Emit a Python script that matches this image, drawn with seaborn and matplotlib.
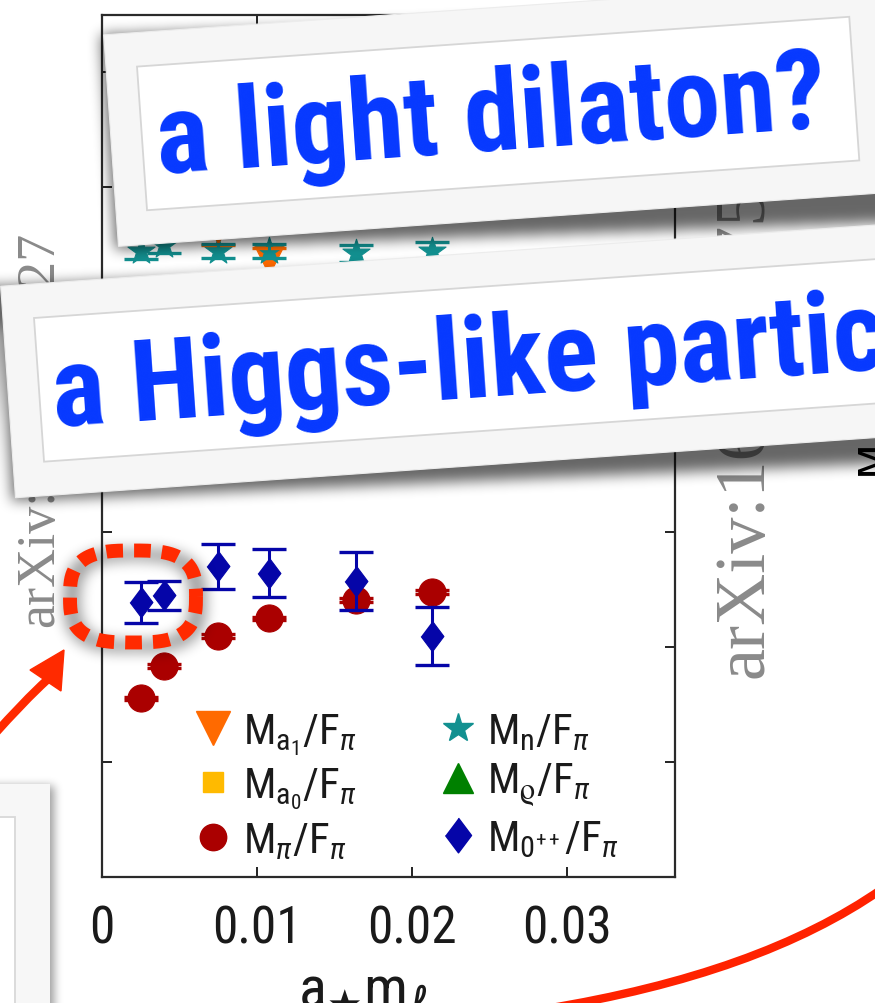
import numpy as np
import pandas as pd
import matplotlib
matplotlib.use("Agg")
import matplotlib.pyplot as plt
import seaborn as sns
from matplotlib import font_manager
from matplotlib.path import Path
from matplotlib.patches import Polygon, PathPatch
from matplotlib.lines import Line2D

# ---- spectrum in units of F_pi versus a*m_l ----
quark_mass = [0.0025, 0.0040, 0.0075, 0.0108, 0.0164, 0.0213]
m_pi = [3.11, 3.67, 4.19, 4.50, 4.82, 4.96]
m_pi_err = [0.03, 0.03, 0.03, 0.03, 0.03, 0.03]
m_sigma = [4.78, 4.90, 5.41, 5.29, 5.15, 4.19]
m_sigma_err = [0.36, 0.25, 0.39, 0.42, 0.51, 0.50]
m_n = [10.90, 11.00, 10.90, 10.90, 10.85, 10.90]
m_n_err = [0.15, 0.15, 0.12, 0.12, 0.15, 0.15]
m_a1 = [11.8, 11.6, 11.3, 10.75, 11.9, 12.2]
m_a1_err = [0.30, 0.30, 0.30, 0.20, 0.30, 0.30]
m_a0 = [12.6, 12.7, 12.5, 12.9, 13.1, 13.3]
m_a0_err = [0.3, 0.3, 0.3, 0.3, 0.3, 0.3]
m_rho = [12.0, 12.2, 12.1, 12.3, 12.6, 12.9]
m_rho_err = [0.2, 0.2, 0.2, 0.2, 0.2, 0.2]

x_ticks = [0, 0.01, 0.02, 0.03]
x_tick_labels = ["0", "0.01", "0.02", "0.03"]

W, H = 875, 1004

sns.set_theme(style="white")
avail = {f.name for f in font_manager.fontManager.ttflist}
narrow = next((n for n in ["Liberation Sans Narrow", "Roboto Condensed",
                           "Open Sans Condensed", "Liberation Sans"] if n in avail),
              "DejaVu Sans")
banner_font = next((n for n in ["Roboto Condensed", "Liberation Sans Narrow", "Lato"]
                    if n in avail), "DejaVu Sans")
plt.rcParams["font.family"] = [narrow, "DejaVu Sans"]
plt.rcParams["mathtext.fontset"] = "custom"
plt.rcParams["mathtext.sf"] = narrow
plt.rcParams["mathtext.rm"] = narrow
plt.rcParams["mathtext.it"] = narrow + ":italic"
plt.rcParams["mathtext.fallback"] = "stix"

diamond = [(0, 1), (0.75, 0), (0, -1), (-0.75, 0)]

series = [
    # key, values, errors, label, marker, scatter size, legend size, color
    ("a1", m_a1, m_a1_err, r"$\mathsf{M}_{\mathsf{a}_\mathsf{1}}/\mathsf{F}_\pi$", "v", 520, 24, "#ff6a00"),
    ("a0", m_a0, m_a0_err, r"$\mathsf{M}_{\mathsf{a}_\mathsf{0}}/\mathsf{F}_\pi$", "s", 230, 15, "#ffba00"),
    ("pi", m_pi, m_pi_err, r"$\mathsf{M}_\pi/\mathsf{F}_\pi$", "o", 380, 19, "#aa0000"),
    ("n", m_n, m_n_err, r"$\mathsf{M}_\mathsf{n}/\mathsf{F}_\pi$", "*", 420, 22, "#129090"),
    ("rho", m_rho, m_rho_err, r"$\mathsf{M}_\varrho/\mathsf{F}_\pi$", "^", 420, 22, "#008000"),
    ("sigma", m_sigma, m_sigma_err, r"$\mathsf{M}_{\mathsf{0}^{++}}/\mathsf{F}_\pi$", diamond, 480, 25, "#0505a8"),
]

rows = []
for key, vals, errs, *_ in series:
    for xv, yv, ev in zip(quark_mass, vals, errs):
        rows.append({"am": xv, "ratio": yv, "err": ev, "state": key})
df = pd.DataFrame(rows)

fig = plt.figure(figsize=(W / 100, H / 100), dpi=100)
fig.patch.set_facecolor("white")
ax = fig.add_axes([102 / W, (H - 878) / H, (675 - 102) / W, (878 - 16) / H])
ax.set_facecolor("white")

for key, vals, errs, label, marker, s, ms, color in series:
    sub = df[df["state"] == key]
    sns.scatterplot(data=sub, x="am", y="ratio", marker=marker, s=s, color=color,
                    edgecolor=color, linewidth=0.8, ax=ax, legend=False, zorder=3)
    ax.errorbar(sub["am"], sub["ratio"], yerr=sub["err"], fmt="none", ecolor=color,
                elinewidth=2.2, capsize=12.5, capthick=2.4, zorder=4)

ax.set_xlim(0, 0.037)
ax.set_ylim(0, 15)
ax.set_xticks(x_ticks)
ax.set_xticklabels(x_tick_labels)
ax.set_yticks(np.arange(2, 15, 2))
ax.tick_params(axis="both", direction="in", length=7, width=1.4, color="#222222",
               top=True, right=True, bottom=True, left=True)
ax.tick_params(axis="y", labelleft=False)
ax.tick_params(axis="x", labelsize=37, pad=19, labelcolor="#1a1a1a")
for sp in ax.spines.values():
    sp.set_color("#2a2a2a")
    sp.set_linewidth(1.6)
ax.set_xlabel(r"$\mathsf{a}_{\bigstar}\mathsf{m}_\ell$", fontsize=42, color="#1a1a1a")
ax.xaxis.set_label_coords((363 - 102) / 573.5, -(966 - 878) / 862.5)

handles = [Line2D([], [], ls="none", marker=m, markersize=ms, color=c,
                  markeredgecolor=c, label=lab)
           for _, _, _, lab, m, _, ms, c in series]
ax.legend(handles=handles, ncol=2, loc="upper left",
          bbox_to_anchor=((193 - 102) / 573.5, (878 - 712) / 862.5),
          frameon=False, fontsize=31, handlelength=0.95, handletextpad=0.22,
          labelspacing=0.2, columnspacing=1.85, borderpad=0, borderaxespad=0,
          labelcolor="#1a1a1a")

# ---- slide overlay in pixel coordinates ----
ov = fig.add_axes([0, 0, 1, 1], zorder=5)
ov.patch.set_alpha(0)
ov.axis("off")

yy, xx = np.mgrid[0:H, 0:W] + 0.5
grid_pts = np.column_stack([xx.ravel(), yy.ravel()])


def blur(img, r, passes=3):
    for _ in range(passes):
        c = np.cumsum(np.pad(img, ((0, 0), (r + 1, r)), mode="edge"), axis=1)
        img = (c[:, 2 * r + 1:] - c[:, :-2 * r - 1]) / (2 * r + 1)
        c = np.cumsum(np.pad(img, ((r + 1, r), (0, 0)), mode="edge"), axis=0)
        img = (c[2 * r + 1:, :] - c[:-2 * r - 1, :]) / (2 * r + 1)
    return img


def shadow_from_mask(mask, r, alpha, z):
    soft = blur(mask.astype(float), r)
    rgba = np.zeros((H, W, 4))
    rgba[..., 3] = np.clip(soft, 0, 1) * alpha
    ov.imshow(rgba, extent=(0, W, H, 0), zorder=z, interpolation="bilinear",
              aspect="auto")


def poly_mask(pts):
    return Path(pts).contains_points(grid_pts).reshape(H, W)


def rot_rect(tl, w, h, ang):
    a = np.deg2rad(ang)
    u = np.array([np.cos(a), -np.sin(a)])
    v = np.array([np.sin(a), np.cos(a)])
    tl = np.asarray(tl, float)
    return np.array([tl, tl + u * w, tl + u * w + v * h, tl + v * h]), u, v


# watermark labels down the margins
ov.text(53, 627, "arXiv:1601.04027", rotation=90, rotation_mode="anchor",
        ha="left", va="baseline", fontsize=39, family="Liberation Serif",
        color="#8a8a8a", zorder=1)
ov.text(762, 678, "arXiv:1605.08750", rotation=90, rotation_mode="anchor",
        ha="left", va="baseline", fontsize=52, family="Liberation Serif",
        color="#8a8a8a", zorder=1)
ov.text(886, 457, "M", rotation=90, rotation_mode="anchor", ha="center",
        va="baseline", fontsize=30, family="DejaVu Sans", color="black", zorder=1)

# dotted highlight around the two lightest scalar states
cx, cy, ea, eb, nexp = 133, 597.5, 63, 46, 3.0
t = np.linspace(0, 2 * np.pi, 500)
ex = cx + ea * np.sign(np.cos(t)) * np.abs(np.cos(t)) ** (2 / nexp)
ey = cy + eb * np.sign(np.sin(t)) * np.abs(np.sin(t)) ** (2 / nexp)
rr = ((np.abs(xx - cx - 2) / ea) ** nexp + (np.abs(yy - cy - 4) / eb) ** nexp) ** (1 / nexp)
shadow_from_mask(np.abs(rr - 1) < 0.13, 6, 0.4, 2)
ov.plot(ex, ey, color="#ff2a00", lw=10, ls=(0, (1.2, 0.8)),
        solid_capstyle="butt", dash_capstyle="butt", zorder=3)

# arrow pointing at the highlight
shaft = Path([(-8, 738), (24, 702), (47, 681)],
             [Path.MOVETO, Path.CURVE3, Path.CURVE3])
ov.add_patch(PathPatch(shaft, fc="none", ec="#ff2a00", lw=6, zorder=3))
ov.add_patch(Polygon([(64, 651), (30, 671), (61, 692)], closed=True,
                     fc="#ff2a00", ec="#ff2a00", lw=1, zorder=3))

# sweeping connector at the bottom right
curve = Path([(545, 1010), (760, 975), (882, 890)],
             [Path.MOVETO, Path.CURVE3, Path.CURVE3])
ov.add_patch(PathPatch(curve, fc="none", ec="#ff2200", lw=6, zorder=3))

# neighbouring slide card at the bottom left
card_bl = np.array([(-60, 785), (50, 785), (50, 1100), (-60, 1100)])
shadow_from_mask(poly_mask(card_bl + np.array([4, 2])), 4, 0.4, 2)
ov.add_patch(Polygon(card_bl, closed=True, fc="#f7f7f7", ec="none", zorder=3))
ov.add_patch(Polygon([(-60, 818), (15, 818), (15, 1100), (-60, 1100)], closed=True,
                     fc="white", ec="#d8d8d8", lw=1.3, zorder=3))

# caption banners
ANG = 4.0
renderer = fig.canvas.get_renderer()
font_kw = dict(family=[banner_font, "DejaVu Sans"], weight="bold", color="#0638ff")
probe = ov.text(0, 0, "a light dilaton?", fontsize=80, **font_kw)
bb = probe.get_window_extent(renderer=renderer)
probe.remove()
banner_fs = 80 * 672 / bb.width

banners = [
    # inner top-left corner, inner width, text, text anchor (baseline start)
    ((137, 67.6), 714, "a light dilaton?", (158, 174)),
    ((34, 319), 1000, "a Higgs-like particle?", (54, 427)),
]
z = 4
for (tl, w_in, txt, anchor) in banners:
    inner, u, v = rot_rect(tl, w_in, 144, ANG)
    otl = np.asarray(tl) - u * 31 - v * 34
    outer, _, _ = rot_rect(otl, w_in + 31 + 200, 212, ANG)
    sh = outer.copy()
    sh[0] += (-3, 0)
    sh[1] += (0, 32)
    sh[2] += (0, 36)
    sh[3] += (-3, 3)
    shadow_from_mask(poly_mask(sh), 6, 0.6, z)
    ov.add_patch(Polygon(outer, closed=True, fc="#f6f6f6", ec="#ececec", lw=0.8,
                         zorder=z + 1))
    ov.add_patch(Polygon(inner, closed=True, fc="white", ec="#d6d6d6", lw=1.3,
                         zorder=z + 1))
    ov.text(anchor[0], anchor[1], txt, rotation=ANG, rotation_mode="anchor",
            ha="left", va="baseline", fontsize=banner_fs, zorder=z + 2, **font_kw)
    z += 3

ov.set_xlim(0, W)
ov.set_ylim(H, 0)

fig.savefig("out.png", dpi=100)
